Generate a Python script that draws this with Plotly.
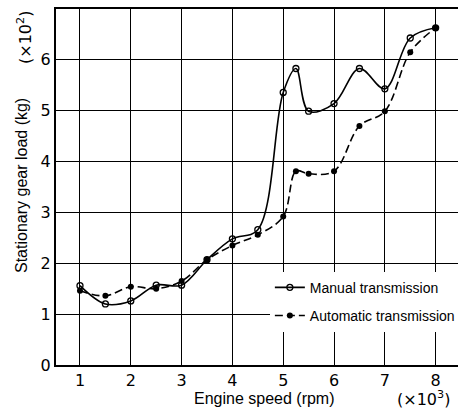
import plotly.graph_objects as go

speed = [1, 1.5, 2, 2.5, 3, 3.5, 4, 4.5, 5, 5.25, 5.5, 6, 6.5, 7, 7.5, 8]
manual = [1.56, 1.20, 1.26, 1.57, 1.57, 2.07, 2.48, 2.66, 5.36, 5.83, 4.99, 5.14, 5.83, 5.43, 6.43, 6.63]
automatic = [1.46, 1.36, 1.54, 1.50, 1.65, 2.07, 2.35, 2.56, 2.92, 3.81, 3.76, 3.81, 4.70, 4.99, 6.15, 6.63]
x_ticks = [1, 2, 3, 4, 5, 6, 7, 8]
y_ticks = [0, 1, 2, 3, 4, 5, 6, 7]

COND = "Liberation Sans, Arial, sans-serif"
REG = "DejaVu Sans, sans-serif"

fig = go.Figure()
fig.add_trace(go.Scatter(
    x=speed, y=manual, mode="lines+markers", name="Manual transmission",
    line=dict(color="black", width=1.6, shape="spline", smoothing=1.0),
    marker=dict(symbol="circle-open", size=6, color="black", line=dict(width=1.3)),
    legendgroup="m",
))
fig.add_trace(go.Scatter(
    x=speed, y=automatic, mode="lines+markers", name="Automatic transmission",
    line=dict(color="black", width=1.6, shape="spline", smoothing=1.0, dash="8px,4px"),
    marker=dict(symbol="circle", size=6, color="black"),
    legendgroup="a",
))

fig.update_layout(
    width=458, height=410,
    margin=dict(l=56, r=0, t=9, b=45, autoexpand=False),
    paper_bgcolor="white", plot_bgcolor="white",
    showlegend=True,
    legend=dict(
        x=0.532, xanchor="left", y=0.262, yanchor="top",
        bgcolor="white", borderwidth=0,
        font=dict(family=COND, size=14, color="black"),
        tracegroupgap=7, traceorder="grouped",
    ),
    xaxis=dict(
        range=[0.528, 8.44], tickvals=x_ticks, ticktext=[str(v) for v in x_ticks],
        showgrid=True, gridcolor="black", gridwidth=1.2,
        showline=True, linecolor="black", linewidth=2, mirror=True,
        zeroline=False, ticks="",
        tickfont=dict(family=REG, size=16, color="black"),
    ),
    yaxis=dict(
        range=[0, 7], tickvals=y_ticks, ticktext=[str(v) for v in y_ticks],
        showgrid=True, gridcolor="black", gridwidth=1.2,
        showline=True, linecolor="black", linewidth=2, mirror=False,
        zeroline=False, ticks="",
        tickfont=dict(family=REG, size=16, color="black"),
    ),
    annotations=[
        dict(text="Engine speed (rpm)", xref="paper", yref="paper",
             x=(264 - 56) / 402, y=-(398 - 365) / 356, xanchor="center", yanchor="middle",
             showarrow=False, font=dict(family=COND, size=16, color="black")),
        dict(text="(×10<sup>3</sup>)", xref="paper", yref="paper",
             x=(423 - 56) / 402, y=-(398 - 365) / 356, xanchor="center", yanchor="middle",
             showarrow=False, font=dict(family=REG, size=16, color="black")),
        dict(text="Stationary gear load (kg)", xref="paper", yref="paper",
             x=-(56 - 21) / 402, y=(365 - 186) / 356, xanchor="center", yanchor="middle",
             textangle=-90, showarrow=False, font=dict(family=COND, size=16, color="black")),
        dict(text="(×10<sup>2</sup>)", xref="paper", yref="paper",
             x=-(56 - 24) / 402, y=(365 - 38) / 356, xanchor="center", yanchor="middle",
             textangle=-90, showarrow=False, font=dict(family=REG, size=16, color="black")),
    ],
)

fig.write_html("out.html", config={"displayModeBar": False},
               post_script="document.body.style.margin='0';")
